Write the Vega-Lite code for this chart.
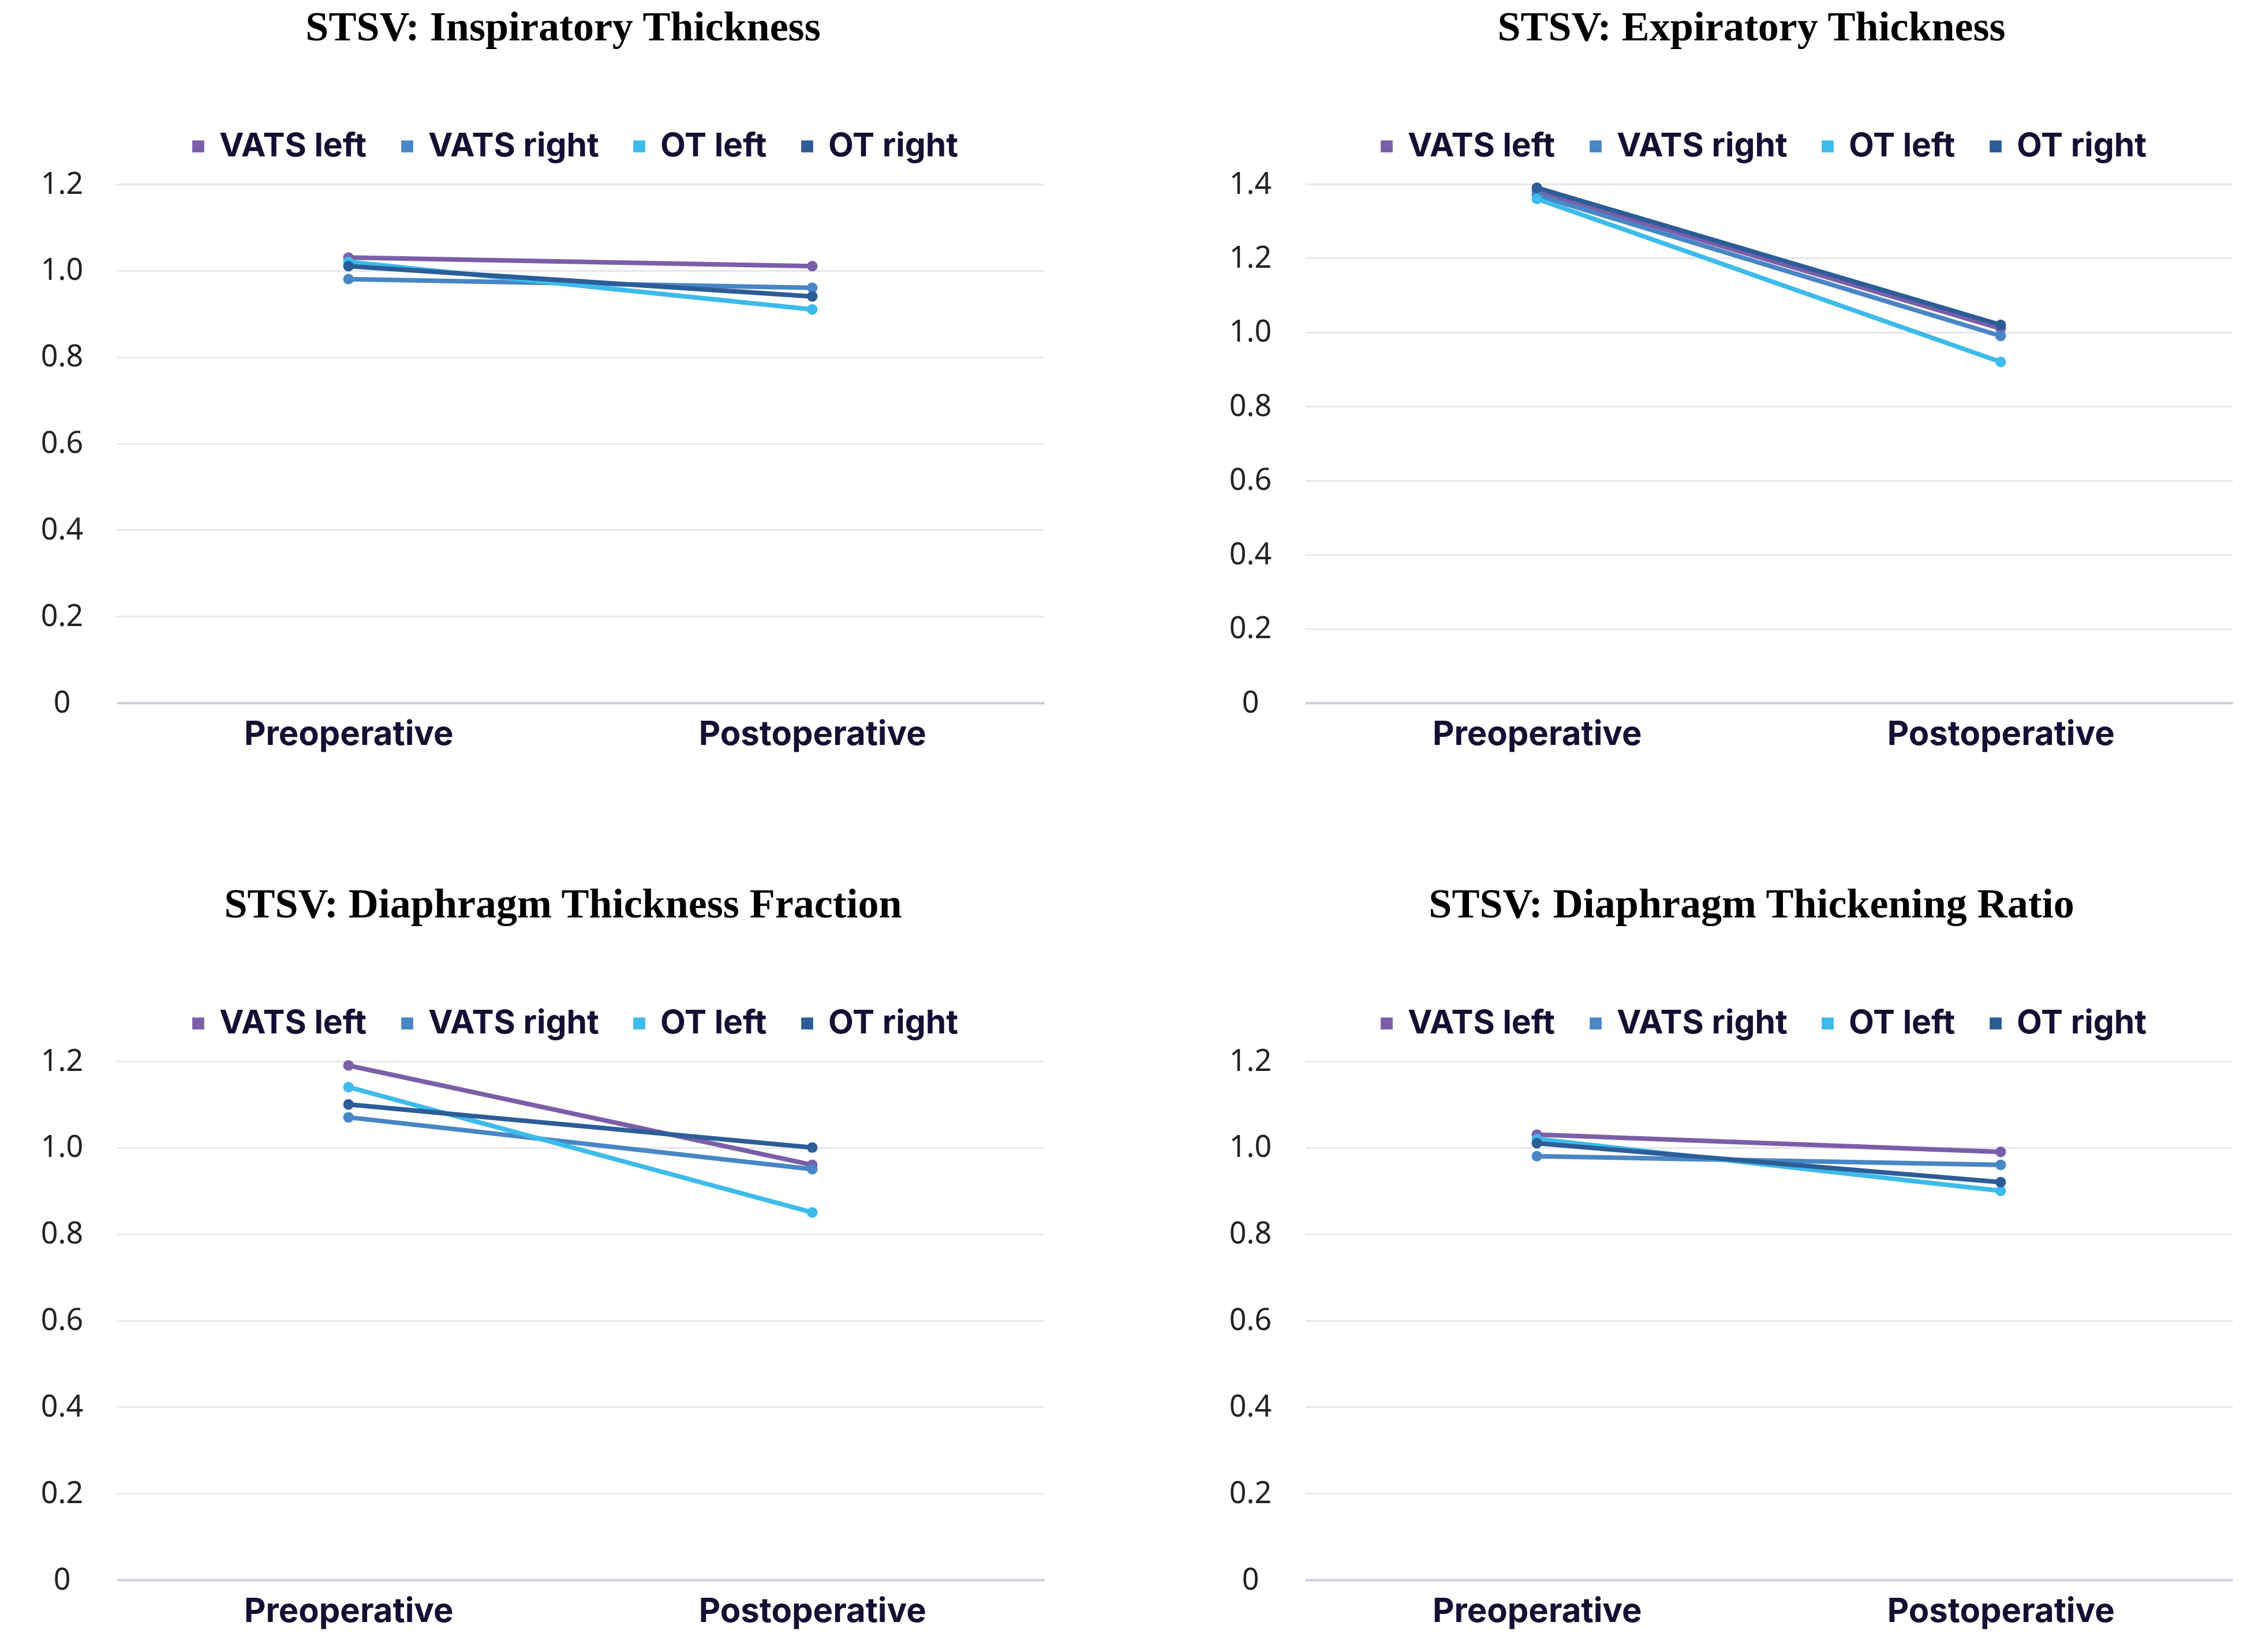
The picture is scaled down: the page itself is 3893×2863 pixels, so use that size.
{
  "$schema": "https://vega.github.io/schema/vega-lite/v6.json",
  "background": "white",
  "padding": {"left": 70, "top": 12, "right": 10, "bottom": 10},
  "data": {"values": [
    {"panel": "insp", "phase": "Preoperative", "group": "VATS left", "value": 1.03},
    {"panel": "insp", "phase": "Preoperative", "group": "VATS right", "value": 0.98},
    {"panel": "insp", "phase": "Preoperative", "group": "OT left", "value": 1.02},
    {"panel": "insp", "phase": "Preoperative", "group": "OT right", "value": 1.01},
    {"panel": "insp", "phase": "Postoperative", "group": "VATS left", "value": 1.01},
    {"panel": "insp", "phase": "Postoperative", "group": "VATS right", "value": 0.96},
    {"panel": "insp", "phase": "Postoperative", "group": "OT left", "value": 0.91},
    {"panel": "insp", "phase": "Postoperative", "group": "OT right", "value": 0.94},
    {"panel": "exp", "phase": "Preoperative", "group": "VATS left", "value": 1.38},
    {"panel": "exp", "phase": "Preoperative", "group": "VATS right", "value": 1.37},
    {"panel": "exp", "phase": "Preoperative", "group": "OT left", "value": 1.36},
    {"panel": "exp", "phase": "Preoperative", "group": "OT right", "value": 1.39},
    {"panel": "exp", "phase": "Postoperative", "group": "VATS left", "value": 1.01},
    {"panel": "exp", "phase": "Postoperative", "group": "VATS right", "value": 0.99},
    {"panel": "exp", "phase": "Postoperative", "group": "OT left", "value": 0.92},
    {"panel": "exp", "phase": "Postoperative", "group": "OT right", "value": 1.02},
    {"panel": "dtf", "phase": "Preoperative", "group": "VATS left", "value": 1.19},
    {"panel": "dtf", "phase": "Preoperative", "group": "VATS right", "value": 1.07},
    {"panel": "dtf", "phase": "Preoperative", "group": "OT left", "value": 1.14},
    {"panel": "dtf", "phase": "Preoperative", "group": "OT right", "value": 1.10},
    {"panel": "dtf", "phase": "Postoperative", "group": "VATS left", "value": 0.96},
    {"panel": "dtf", "phase": "Postoperative", "group": "VATS right", "value": 0.95},
    {"panel": "dtf", "phase": "Postoperative", "group": "OT left", "value": 0.85},
    {"panel": "dtf", "phase": "Postoperative", "group": "OT right", "value": 1.00},
    {"panel": "dtr", "phase": "Preoperative", "group": "VATS left", "value": 1.03},
    {"panel": "dtr", "phase": "Preoperative", "group": "VATS right", "value": 0.98},
    {"panel": "dtr", "phase": "Preoperative", "group": "OT left", "value": 1.02},
    {"panel": "dtr", "phase": "Preoperative", "group": "OT right", "value": 1.01},
    {"panel": "dtr", "phase": "Postoperative", "group": "VATS left", "value": 0.99},
    {"panel": "dtr", "phase": "Postoperative", "group": "VATS right", "value": 0.96},
    {"panel": "dtr", "phase": "Postoperative", "group": "OT left", "value": 0.90},
    {"panel": "dtr", "phase": "Postoperative", "group": "OT right", "value": 0.92}
  ]},
  "config": {
    "view": {"stroke": null},
    "title": {"font": "Liberation Serif", "fontWeight": "bold", "fontSize": 72, "color": "#000000", "anchor": "middle", "frame": "group", "baseline": "alphabetic", "offset": 140, "dx": -30},
    "axisX": {"domain": true, "domainColor": "#cfcddd", "domainWidth": 4, "ticks": false, "tickSize": 0, "grid": false, "labelFont": "Inter", "labelFontWeight": "bold", "labelFontSize": 58, "labelColor": "#160f33", "labelPadding": 26, "labelAngle": 0, "labelLimit": 0, "title": null},
    "axisY": {"domain": false, "ticks": false, "tickSize": 0, "grid": true, "gridColor": "#e7e7ec", "gridWidth": 3, "labelFont": "Noto Sans", "labelFontSize": 52, "labelColor": "#222222", "labelAlign": "center", "labelPadding": 95, "title": null, "labelExpr": "datum.value === 0 ? '0' : format(datum.value, '.1f')"},
    "legend": {"direction": "horizontal", "title": null, "symbolSize": 430, "symbolStrokeWidth": 0, "symbolOpacity": 1, "labelFont": "Inter", "labelFontWeight": "bold", "labelFontSize": 57, "labelColor": "#160f33", "labelOffset": 8, "columnPadding": 41, "labelLimit": 0}
  },
  "resolve": {"scale": {"color": "independent", "y": "independent"}, "legend": {"color": "independent"}},
  "spacing": 230,
  "vconcat": [
    {
      "spacing": 320,
      "resolve": {"scale": {"color": "independent", "y": "independent"}, "legend": {"color": "independent"}},
      "hconcat": [
        {
          "title": "STSV: Inspiratory Thickness",
          "width": 1607, "height": 899,
          "transform": [{"filter": "datum.panel === 'insp'"}],
          "encoding": {
            "x": {"field": "phase", "type": "nominal", "sort": ["Preoperative", "Postoperative"], "scale": {"type": "point", "padding": 0.5}},
            "y": {"field": "value", "type": "quantitative", "scale": {"domain": [0, 1.2], "nice": false}, "axis": {"values": [0, 0.2, 0.4, 0.6, 0.8, 1.0, 1.2]}},
            "color": {"field": "group", "type": "nominal", "scale": {"domain": ["VATS left", "VATS right", "OT left", "OT right"], "range": ["#7b5ea8", "#4886c6", "#3dbbea", "#2c5d98"]}, "legend": {"orient": "none", "legendX": 113, "legendY": -94, "direction": "horizontal", "symbolType": "square"}}
          },
          "layer": [
            {"mark": {"type": "line", "strokeWidth": 8}},
            {"mark": {"type": "point", "filled": true, "size": 340, "opacity": 1}}
          ]
        },
        {
          "title": "STSV: Expiratory Thickness",
          "width": 1607, "height": 899,
          "transform": [{"filter": "datum.panel === 'exp'"}],
          "encoding": {
            "x": {"field": "phase", "type": "nominal", "sort": ["Preoperative", "Postoperative"], "scale": {"type": "point", "padding": 0.5}},
            "y": {"field": "value", "type": "quantitative", "scale": {"domain": [0, 1.4], "nice": false}, "axis": {"values": [0, 0.2, 0.4, 0.6, 0.8, 1.0, 1.2, 1.4]}},
            "color": {"field": "group", "type": "nominal", "scale": {"domain": ["VATS left", "VATS right", "OT left", "OT right"], "range": ["#7b5ea8", "#4886c6", "#3dbbea", "#2c5d98"]}, "legend": {"orient": "none", "legendX": 113, "legendY": -94, "direction": "horizontal", "symbolType": "square"}}
          },
          "layer": [
            {"mark": {"type": "line", "strokeWidth": 8}},
            {"mark": {"type": "point", "filled": true, "size": 340, "opacity": 1}}
          ]
        }
      ]
    },
    {
      "spacing": 320,
      "resolve": {"scale": {"color": "independent", "y": "independent"}, "legend": {"color": "independent"}},
      "hconcat": [
        {
          "title": "STSV: Diaphragm Thickness Fraction",
          "width": 1607, "height": 899,
          "transform": [{"filter": "datum.panel === 'dtf'"}],
          "encoding": {
            "x": {"field": "phase", "type": "nominal", "sort": ["Preoperative", "Postoperative"], "scale": {"type": "point", "padding": 0.5}},
            "y": {"field": "value", "type": "quantitative", "scale": {"domain": [0, 1.2], "nice": false}, "axis": {"values": [0, 0.2, 0.4, 0.6, 0.8, 1.0, 1.2]}},
            "color": {"field": "group", "type": "nominal", "scale": {"domain": ["VATS left", "VATS right", "OT left", "OT right"], "range": ["#7b5ea8", "#4886c6", "#3dbbea", "#2c5d98"]}, "legend": {"orient": "none", "legendX": 113, "legendY": -94, "direction": "horizontal", "symbolType": "square"}}
          },
          "layer": [
            {"mark": {"type": "line", "strokeWidth": 8}},
            {"mark": {"type": "point", "filled": true, "size": 340, "opacity": 1}}
          ]
        },
        {
          "title": "STSV: Diaphragm Thickening Ratio",
          "width": 1607, "height": 899,
          "transform": [{"filter": "datum.panel === 'dtr'"}],
          "encoding": {
            "x": {"field": "phase", "type": "nominal", "sort": ["Preoperative", "Postoperative"], "scale": {"type": "point", "padding": 0.5}},
            "y": {"field": "value", "type": "quantitative", "scale": {"domain": [0, 1.2], "nice": false}, "axis": {"values": [0, 0.2, 0.4, 0.6, 0.8, 1.0, 1.2]}},
            "color": {"field": "group", "type": "nominal", "scale": {"domain": ["VATS left", "VATS right", "OT left", "OT right"], "range": ["#7b5ea8", "#4886c6", "#3dbbea", "#2c5d98"]}, "legend": {"orient": "none", "legendX": 113, "legendY": -94, "direction": "horizontal", "symbolType": "square"}}
          },
          "layer": [
            {"mark": {"type": "line", "strokeWidth": 8}},
            {"mark": {"type": "point", "filled": true, "size": 340, "opacity": 1}}
          ]
        }
      ]
    }
  ]
}
